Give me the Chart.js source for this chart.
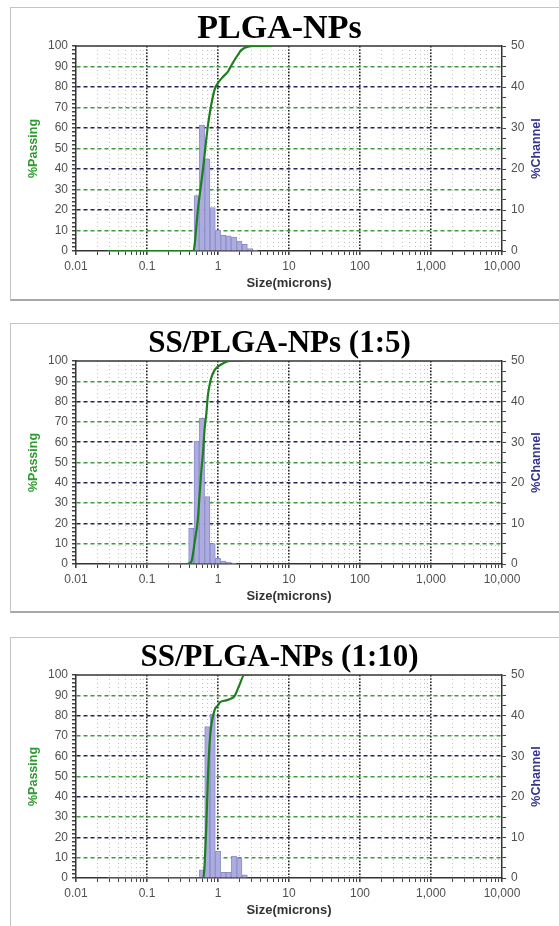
<!DOCTYPE html>
<html>
<head>
<meta charset="UTF-8">
<title>Particle Size Distribution</title>
<script src="https://cdn.jsdelivr.net/npm/chart.js@4"></script>
<style>
    body { margin: 0; background: #fff; width: 559px; height: 926px; overflow: hidden; position: relative; }
    .frame { position: absolute; left: 10px; width: 560px; border: 1px solid #c4c4c4; border-bottom: 2px solid #a8a8a8; background: #fff; }
    .panel { position: absolute; left: 0; width: 559px; }
</style>
</head>
<body>
<div class="frame" style="top:7px;height:291px"></div>
<div class="frame" style="top:323px;height:287px"></div>
<div class="frame" style="top:637px;height:300px"></div>
<div class="panel" style="top:1px;height:300px"><canvas id="c1"></canvas></div>
<div class="panel" style="top:316px;height:298px"><canvas id="c2"></canvas></div>
<div class="panel" style="top:630px;height:298px"><canvas id="c3"></canvas></div>

<script>
    // axis labels
    var sizeTickLabels = ['0.01', '0.1', '1', '10', '100', '1,000', '10,000'];
    var passingTickLabels = [0, 10, 20, 30, 40, 50, 60, 70, 80, 90, 100];
    var channelTickLabels = [0, 10, 20, 30, 40, 50];
    var panelTitles = ['PLGA-NPs', 'SS/PLGA-NPs (1:5)', 'SS/PLGA-NPs (1:10)'];

    // PLGA-NPs
    var plgaBinSizes = [0.5, 0.595, 0.707, 0.841, 1.0, 1.19, 1.41, 1.68, 2.0, 2.38, 2.83, 3.36];
    var plgaChannel = [13.5, 30.7, 22.5, 10.6, 5.1, 3.8, 3.7, 3.4, 2.4, 1.6, 0.6, 0.2];
    var plgaCurveSizes = [0.0275, 0.45, 0.52, 0.615, 0.72, 0.8, 0.9, 1.0, 1.18, 1.38, 1.54, 1.81, 2.13, 2.65, 3.3, 5.6];
    var plgaPassing = [0, 0, 20, 40, 61, 71, 79, 82, 85, 87.5, 90.5, 94.5, 98, 99.7, 100, 100];

    // SS/PLGA-NPs (1:5)
    var ss5BinSizes = [0.42, 0.5, 0.595, 0.707, 0.841, 1.0, 1.19, 1.41, 1.68];
    var ss5Channel = [8.8, 30.3, 35.9, 16.6, 5.0, 1.4, 0.7, 0.4, 0.2];
    var ss5CurveSizes = [0.0275, 0.36, 0.42, 0.47, 0.52, 0.55, 0.58, 0.615, 0.65, 0.685, 0.72, 0.76, 0.8, 0.9, 1.0, 1.24, 1.54, 2.25];
    var ss5Passing = [0, 0, 1, 11, 22, 34, 45, 55, 67, 74, 83, 88, 91.5, 95.6, 97.2, 99.3, 100, 100];

    // SS/PLGA-NPs (1:10)
    var ss10BinSizes = [0.595, 0.707, 0.841, 1.0, 1.19, 1.41, 1.68, 2.0, 2.38];
    var ss10Channel = [2.0, 37.3, 40.4, 6.6, 1.4, 1.4, 5.4, 4.9, 0.8];
    var ss10CurveSizes = [0.0275, 0.62, 0.685, 0.72, 0.76, 0.81, 0.9, 1.0, 1.06, 1.3, 1.55, 1.7, 2.0, 2.35, 2.8];
    var ss10Passing = [0, 0, 26, 49, 66, 76, 83, 85, 86.5, 87.5, 88.5, 89.5, 95, 100, 100];

    var sans = '"Liberation Sans", Arial, sans-serif';
    var clear = 'rgba(0,0,0,0)';

    function isMajor(v) {
        return Math.abs(v - Math.round(v)) < 1e-6;
    }

    // 1,2,...,9 x 10^n positions on the log10 axis
    function logTicks() {
        var t = [];
        for (var d = -2; d < 4; d++) {
            for (var k = 1; k < 10; k++) t.push({value: d + Math.log10(k)});
        }
        t.push({value: 4});
        return t;
    }

    function stepTicks(min, max, step) {
        var t = [];
        for (var v = min; v <= max + 1e-9; v += step) t.push({value: Math.round(v * 100) / 100});
        return t;
    }

    // top edge of the plot box and the right-hand axis title
    var plotFrame = {
        id: 'plotFrame',
        beforeDatasetsDraw: function (chart) {
            var a = chart.chartArea, ctx = chart.ctx;
            ctx.save();
            ctx.strokeStyle = '#333';
            ctx.lineWidth = 1.5;
            ctx.beginPath();
            ctx.moveTo(a.left, a.top);
            ctx.lineTo(a.right, a.top);
            ctx.stroke();
            ctx.restore();
        },
        afterDraw: function (chart) {
            var a = chart.chartArea, ctx = chart.ctx;
            ctx.save();
            ctx.translate(a.right + 35, (a.top + a.bottom) / 2);
            ctx.rotate(-Math.PI / 2);
            ctx.fillStyle = '#34348e';
            ctx.font = 'bold 12.5px ' + sans;
            ctx.textAlign = 'center';
            ctx.textBaseline = 'middle';
            ctx.fillText('%Channel', 0, 0);
            ctx.restore();
        }
    };

    function makeChart(id, title, titleSize, binSizes, channel, curveSizes, passing) {
        var bars = binSizes.map(function (s, i) { return {x: Math.log10(s), y: channel[i]}; });
        var curve = curveSizes.map(function (s, i) { return {x: Math.log10(s), y: passing[i]}; });

        return new Chart(document.getElementById(id), {
            type: 'line',
            data: {
                datasets: [{
                    type: 'line',
                    data: curve,
                    xAxisID: 'x',
                    yAxisID: 'y',
                    borderColor: '#1d7f1d',
                    borderWidth: 2.2,
                    pointRadius: 0,
                    cubicInterpolationMode: 'monotone',
                    fill: false,
                    order: 0
                }, {
                    type: 'bar',
                    data: bars,
                    xAxisID: 'xb',
                    yAxisID: 'y2',
                    backgroundColor: '#acacdf',
                    borderColor: '#8c8ccb',
                    borderWidth: 1,
                    barPercentage: 1,
                    categoryPercentage: 1,
                    grouped: false,
                    order: 1
                }]
            },
            options: {
                responsive: true,
                maintainAspectRatio: false,
                animation: false,
                layout: {padding: 0},
                plugins: {
                    legend: {display: false},
                    tooltip: {enabled: false},
                    title: {
                        display: true,
                        text: title,
                        color: '#000',
                        font: {family: '"Liberation Serif", "Times New Roman", serif', size: titleSize, weight: 'bold', lineHeight: 1},
                        padding: {top: 28 - titleSize / 2, bottom: 17 - titleSize / 2}
                    }
                },
                scales: {
                    x: {
                        type: 'linear',
                        position: 'bottom',
                        min: -2,
                        max: 4,
                        offset: false,
                        afterBuildTicks: function (scale) { scale.ticks = logTicks(); },
                        afterFit: function (scale) { scale.height = 50; },
                        ticks: {
                            autoSkip: false,
                            maxRotation: 0,
                            padding: 4,
                            color: '#505050',
                            font: {family: sans, size: 12},
                            callback: function (v) { return isMajor(v) ? sizeTickLabels[Math.round(v) + 2] : ''; }
                        },
                        grid: {
                            offset: false,
                            tickLength: 4,
                            tickColor: '#444',
                            color: function (c) {
                                if (!c.tick) return clear;
                                var v = c.tick.value;
                                if (v < -1.999 || v > 3.999) return clear;
                                return isMajor(v) ? '#222' : '#c0c0c0';
                            },
                            lineWidth: function (c) { return c.tick && isMajor(c.tick.value) ? 1.6 : 1; }
                        },
                        border: {
                            color: '#333',
                            width: 1.5,
                            dash: function (c) {
                                if (!c.tick) return [];
                                return isMajor(c.tick.value) ? [1.6, 1.6] : [1, 3];
                            }
                        },
                        title: {
                            display: true,
                            text: 'Size(microns)',
                            color: '#333',
                            font: {family: sans, size: 13, weight: 'bold'},
                            padding: {top: 0, bottom: 10}
                        }
                    },
                    xb: {
                        type: 'linear',
                        display: false,
                        min: -2,
                        max: 4,
                        offset: false,
                        afterBuildTicks: function (scale) { scale.ticks = [{value: -2}, {value: 4}]; }
                    },
                    y: {
                        type: 'linear',
                        position: 'left',
                        min: 0,
                        max: 100,
                        afterBuildTicks: function (scale) { scale.ticks = stepTicks(0, 100, 2); },
                        afterFit: function (scale) { scale.width = 76; },
                        ticks: {
                            autoSkip: false,
                            padding: 4,
                            color: '#505050',
                            font: {family: sans, size: 12},
                            callback: function (v) { return passingTickLabels.indexOf(v) >= 0 ? String(v) : ''; }
                        },
                        grid: {
                            tickLength: 4,
                            tickColor: '#444',
                            color: function (c) {
                                if (!c.tick) return clear;
                                var v = c.tick.value;
                                if (v <= 0 || v >= 100 || v % 10 !== 0) return clear;
                                return (v / 10) % 2 === 1 ? '#3f9a3f' : '#24245a';
                            },
                            lineWidth: 1.5
                        },
                        border: {
                            color: '#333',
                            width: 1.5,
                            dash: function (c) { return c.tick ? [4, 3] : []; }
                        },
                        title: {
                            display: true,
                            text: '%Passing',
                            color: '#2f9a2f',
                            font: {family: sans, size: 12.5, weight: 'bold'},
                            padding: {top: 26, bottom: 0}
                        }
                    },
                    y2: {
                        type: 'linear',
                        position: 'right',
                        min: 0,
                        max: 50,
                        afterBuildTicks: function (scale) { scale.ticks = stepTicks(0, 50, 2.5); },
                        afterFit: function (scale) { scale.width = 57; },
                        ticks: {
                            autoSkip: false,
                            padding: 5,
                            color: '#505050',
                            font: {family: sans, size: 12},
                            callback: function (v) { return channelTickLabels.indexOf(v) >= 0 ? String(v) : ''; }
                        },
                        grid: {drawOnChartArea: false, tickLength: 4, tickColor: '#444'},
                        border: {color: '#333', width: 1.5}
                    }
                }
            },
            plugins: [plotFrame]
        });
    }

    makeChart('c1', panelTitles[0], 34, plgaBinSizes, plgaChannel, plgaCurveSizes, plgaPassing);
    makeChart('c2', panelTitles[1], 31, ss5BinSizes, ss5Channel, ss5CurveSizes, ss5Passing);
    makeChart('c3', panelTitles[2], 31, ss10BinSizes, ss10Channel, ss10CurveSizes, ss10Passing);
</script>
</body>
</html>
